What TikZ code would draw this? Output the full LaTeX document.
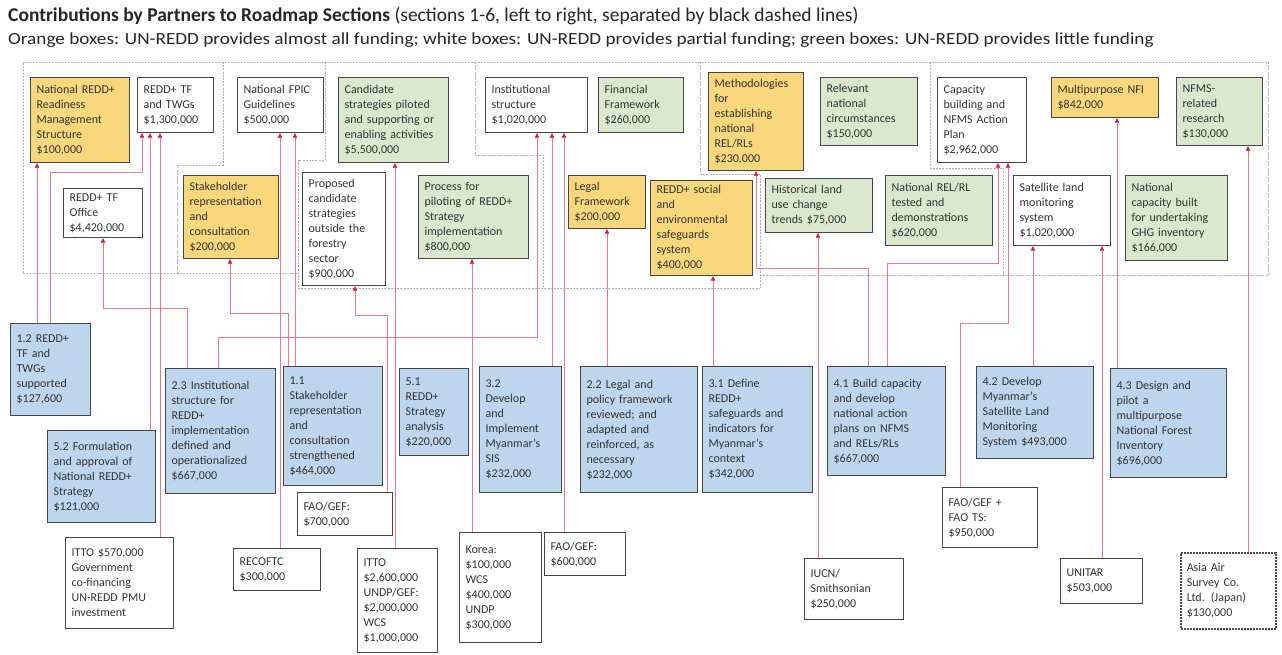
\documentclass[tikz,border=0pt]{standalone}
\usepackage{fontspec}
\usepackage{graphicx}
\setmainfont{Carlito}
\usetikzlibrary{arrows.meta}
\definecolor{orangef}{RGB}{249,215,125}
\definecolor{greenf}{RGB}{217,232,207}
\definecolor{bluef}{RGB}{189,214,238}
\definecolor{connc}{RGB}{236,120,135}
\definecolor{arrowc}{RGB}{205,30,60}
\definecolor{sepc}{RGB}{175,175,175}
\definecolor{boxc}{RGB}{70,70,70}
\newcommand{\bx}[7]{\pgfmathsetmacro\tw{#5-12}\node[#1,anchor=north west,minimum width=#5pt,minimum height=#6pt,text width=\tw pt] (#2) at (#3,#4) {#7};}
\begin{document}
\begin{tikzpicture}[x=1pt,y=-1pt,
  basebox/.style={draw=boxc,line width=1.2pt,inner xsep=6pt,inner ysep=3pt,align=left,
    font=\fontsize{12}{15}\selectfont,text=black!80},
  obox/.style={basebox,fill=orangef},
  gbox/.style={basebox,fill=greenf},
  wbox/.style={basebox,fill=white},
  bbox/.style={basebox,fill=bluef},
  abox/.style={basebox,fill=white,line width=1.5pt,dash pattern=on 2pt off 1pt},
  conn/.style={draw=connc,line width=0.6pt,-{Triangle[length=4.5pt,width=4.5pt,color=arrowc]}},
  sep/.style={draw=sepc,line width=0.7pt,dash pattern=on 2pt off 1.2pt}]
\fill[white] (0,0) rectangle (1282,655);
\useasboundingbox (0,0) rectangle (1282,655);

% title
\node[anchor=base west,inner sep=0pt,text=black!85,font=\fontsize{19.5}{22}\selectfont] (title) at (8,22)
  {\textbf{Contributions by Partners to Roadmap Sections} (sections 1-6, left to right, separated by black dashed lines)};
\node[anchor=base west,inner sep=0pt,text=black!85,font=\fontsize{17}{20}\selectfont] (subtitle) at (8,45)
  {\scalebox{1.13}[1]{Orange boxes: UN-REDD provides almost all funding; white boxes: UN-REDD provides partial funding; green boxes: UN-REDD provides little funding}};

% section separators
\draw[sep] (23,273) -- (23,62) -- (1268,62) -- (1268,275);
\draw[sep] (23,273) -- (298,273);
\draw[sep] (298,288) -- (760,288);
\draw[sep] (760,275) -- (1268,275);
\draw[sep] (223,62) -- (223,165) -- (177,165) -- (177,273);
\draw[sep] (325,62) -- (325,160) -- (298,160) -- (298,288);
\draw[sep] (475,62) -- (475,155) -- (543,155) -- (543,288);
\draw[sep] (700,62) -- (700,174) -- (760,174) -- (760,288);
\draw[sep] (930,62) -- (930,168) -- (1003,168) -- (1003,275);

% top row
\bx{obox}{readiness}{30}{77}{99}{85}{National REDD+\\Readiness\\Management\\Structure\\\$100,000}
\bx{wbox}{tftwg}{137}{77}{76}{55}{REDD+ TF\\and TWGs\\\$1,300,000}
\bx{wbox}{fpic}{237}{77}{86}{55}{National FPIC\\Guidelines\\\$500,000}
\bx{gbox}{candidate}{338}{77}{110}{85}{Candidate\\strategies piloted\\and supporting or\\enabling activities\\\$5,500,000}
\bx{wbox}{inst}{485}{77}{102}{55}{Institutional\\structure\\\$1,020,000}
\bx{gbox}{financial}{598}{77}{85}{55}{Financial\\Framework\\\$260,000}
\bx{obox}{method}{708}{72}{95}{98}{Methodologies\\for\\establishing\\national\\REL/RLs\\\$230,000}
\bx{gbox}{relevant}{820}{77}{97}{68}{Relevant\\national\\circumstances\\\$150,000}
\bx{wbox}{capacity}{937}{77}{89}{85}{Capacity\\building and\\NFMS Action\\Plan\\\$2,962,000}
\bx{obox}{nfi}{1051}{77}{107}{40}{Multipurpose NFI\\\$842,000}
\bx{gbox}{nfmsres}{1176}{77}{86}{68}{NFMS-\\related\\research\\\$130,000}

% second row
\bx{wbox}{tfoffice}{63}{188}{79}{49}{REDD+ TF\\Office\\\$4,420,000}
\bx{obox}{stake}{183}{175}{95}{83}{Stakeholder\\representation\\and\\consultation\\\$200,000}
\bx{wbox}{proposed}{302}{172}{83}{113}{Proposed\\candidate\\strategies\\outside the\\forestry\\sector\\\$900,000}
\bx{gbox}{process}{418}{175}{110}{83}{Process for\\piloting of REDD+\\Strategy\\implementation\\\$800,000}
\bx{obox}{legal}{568}{175}{77}{53}{Legal\\Framework\\\$200,000}
\bx{obox}{safeg}{650}{180}{102}{95}{REDD+ social\\and\\environmental\\safeguards\\system\\\$400,000}
\bx{gbox}{historical}{765}{178}{107}{54}{Historical land\\use change\\trends \$75,000}
\bx{gbox}{reltested}{885}{175}{107}{70}{National REL/RL\\tested and\\demonstrations\\\$620,000}
\bx{wbox}{satellite}{1013}{175}{97}{70}{Satellite land\\monitoring\\system\\\$1,020,000}
\bx{gbox}{ghg}{1125}{175}{102}{85}{National\\capacity built\\for undertaking\\GHG inventory\\\$166,000}

% blue outputs
\bx{bbox}{b12}{10}{323}{80}{92}{1.2 REDD+\\TF and\\TWGs\\supported\\\$127,600}
\bx{bbox}{b52}{47}{430}{108}{92}{5.2 Formulation\\and approval of\\National REDD+\\Strategy\\\$121,000}
\bx{bbox}{b23}{165}{368}{110}{125}{2.3 Institutional\\structure for\\REDD+\\implementation\\defined and\\operationalized\\\$667,000}
\bx{bbox}{b11}{283}{366}{99}{119}{1.1\\Stakeholder\\representation\\and\\consultation\\strengthened\\\$464,000}
\bx{bbox}{b51}{399}{368}{69}{87}{5.1\\REDD+\\Strategy\\analysis\\\$220,000}
\bx{bbox}{b32}{479}{366}{82}{126}{3.2\\Develop\\and\\Implement\\Myanmar's\\SIS\\\$232,000}
\bx{bbox}{b22}{580}{366}{117}{126}{2.2 Legal and\\policy framework\\reviewed; and\\adapted and\\reinforced, as\\necessary\\\$232,000}
\bx{bbox}{b31}{702}{366}{110}{126}{3.1 Define\\REDD+\\safeguards and\\indicators for\\Myanmar's\\context\\\$342,000}
\bx{bbox}{b41}{827}{366}{118}{109}{4.1 Build capacity\\and develop\\national action\\plans on NFMS\\and RELs/RLs\\\$667,000}
\bx{bbox}{b42}{976}{366}{117}{92}{4.2 Develop\\Myanmar's\\Satellite Land\\Monitoring\\System \$493,000}
\bx{bbox}{b43}{1110}{368}{116}{109}{4.3 Design and\\pilot a\\multipurpose\\National Forest\\Inventory\\\$696,000}

% partners
\bx{wbox}{itto570}{65}{537}{108}{91}{ITTO \$570,000\\Government\\co-financing\\UN-REDD PMU\\investment}
\bx{wbox}{recoftc}{233}{548}{87}{42}{RECOFTC\\\$300,000}
\bx{wbox}{fao700}{297}{492}{95}{43}{FAO/GEF:\\\$700,000}
\bx{wbox}{itto26}{357}{548}{80}{104}{ITTO\\\$2,600,000\\UNDP/GEF:\\\$2,000,000\\WCS\\\$1,000,000}
\bx{wbox}{korea}{459}{532}{82}{110}{Korea:\\\$100,000\\WCS\\\$400,000\\UNDP\\\$300,000}
\bx{wbox}{fao600}{544}{532}{81}{43}{FAO/GEF:\\\$600,000}
\bx{wbox}{iucn}{804}{558}{99}{61}{IUCN/\\Smithsonian\\\$250,000}
\bx{wbox}{fao950}{942}{487}{95}{60}{FAO/GEF +\\FAO TS:\\\$950,000}
\bx{wbox}{unitar}{1060}{558}{82}{45}{UNITAR\\\$503,000}
\bx{abox}{asia}{1180}{552}{95}{76}{Asia Air\\Survey Co.\\Ltd. (Japan)\\\$130,000}

% connectors
\draw[conn] (b12.north -| 37,0) -- (readiness.south -| 37,0);
\draw[conn] (b12.north -| 50,0) |- (142,172) -- (tftwg.south -| 142,0);
\draw[conn] (b52.north -| 150,0) -- (tftwg.south -| 150,0);
\draw[conn] (itto570.north -| 160,0) -- (tftwg.south -| 160,0);
\draw[conn] (b23.north -| 187,0) |- (103,308) -- (tfoffice.south -| 103,0);
\draw[conn] (b23.north -| 218,0) |- (537,337) -- (inst.south -| 537,0);
\draw[conn] (b11.north -| 288,0) |- (230,313) -- (stake.south -| 230,0);
\draw[conn] (b11.north -| 295,0) -- (fpic.south -| 295,0);
\draw[conn] (recoftc.north -| 280,0) -- (fpic.south -| 280,0);
\draw[conn] (fao700.north -| 387,0) |- (355,315) -- (proposed.south -| 355,0);
\draw[conn] (itto26.north -| 395,0) -- (candidate.south -| 395,0);
\draw[conn] (korea.north -| 472,0) -- (process.south -| 472,0);
\draw[conn] (b32.north -| 552,0) -- (inst.south -| 552,0);
\draw[conn] (fao600.north -| 564,0) -- (inst.south -| 564,0);
\draw[conn] (b22.north -| 607,0) -- (legal.south -| 607,0);
\draw[conn] (b31.north -| 713,0) -- (safeg.south -| 713,0);
\draw[conn] (b41.north -| 868,0) |- (756,268) -- (method.south -| 756,0);
\draw[conn] (iucn.north -| 818,0) -- (historical.south -| 818,0);
\draw[conn] (b41.north -| 887,0) |- (998,263) -- (capacity.south -| 998,0);
\draw[conn] (fao950.north -| 960,0) |- (1008,323) -- (capacity.south -| 1008,0);
\draw[conn] (b42.north -| 1033,0) -- (satellite.south -| 1033,0);
\draw[conn] (unitar.north -| 1102,0) -- (satellite.south -| 1102,0);
\draw[conn] (b43.north -| 1117,0) -- (nfi.south -| 1117,0);
\draw[conn] (asia.north -| 1248,0) -- (nfmsres.south -| 1248,0);
\end{tikzpicture}
\end{document}
